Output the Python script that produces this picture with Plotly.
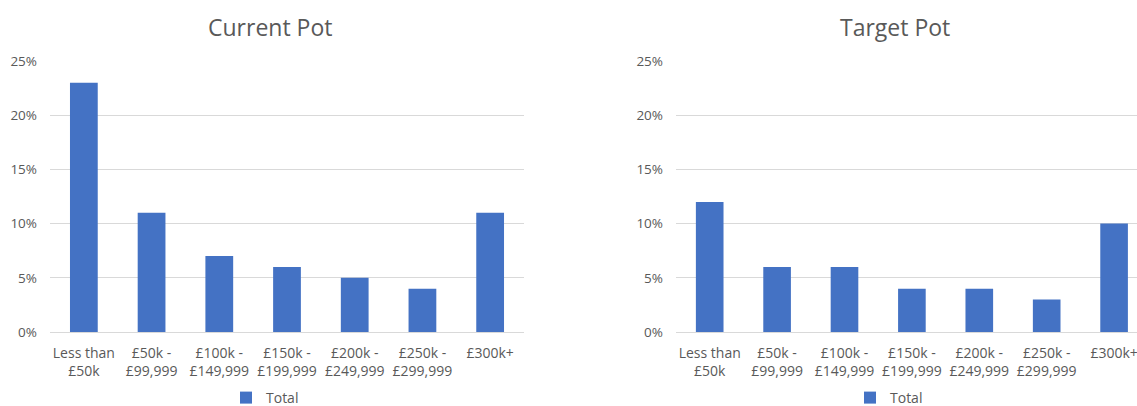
import plotly.graph_objects as go

categories = ["Less than<br>£50k", "£50k -<br>£99,999", "£100k -<br>£149,999", "£150k -<br>£199,999",
              "£200k -<br>£249,999", "£250k -<br>£299,999", "£300k+"]
current_pot = [23, 11, 7, 6, 5, 4, 11]
target_pot = [12, 6, 6, 4, 4, 3, 10]
y_tick_vals = [0, 5, 10, 15, 20, 25]
y_tick_text = ["0%", "5%", "10%", "15%", "20%", "25%"]

W, H = 1137, 406
FONT = "Open Sans"
GREY = "#595959"
BAR = "#4472C4"
GRID = "#D9D9D9"

fig = go.Figure()
fig.add_trace(go.Bar(x=categories, y=current_pot, name="Total", marker_color=BAR,
                     xaxis="x", yaxis="y", legend="legend", width=0.41))
fig.add_trace(go.Bar(x=categories, y=target_pot, name="Total", marker_color=BAR,
                     xaxis="x2", yaxis="y2", legend="legend2", width=0.41))

ydom = [(H - 332) / H, (H - 61) / H]
xcommon = dict(type="category", showgrid=False, showline=True, linecolor=GRID, linewidth=1,
               ticks="", automargin=False, ticklabelstandoff=8,
               tickfont=dict(family=FONT, size=14, color=GREY))
ycommon = dict(range=[0, 25], tickmode="array", tickvals=y_tick_vals, ticktext=y_tick_text,
               showgrid=True, gridcolor=GRID, gridwidth=1, zeroline=False, showline=False,
               ticks="", automargin=False, ticklabelstandoff=12,
               tickfont=dict(family=FONT, size=13.5, color=GREY))

legend_common = dict(yanchor="middle", orientation="h", xanchor="center",
                     font=dict(family=FONT, size=14, color=GREY), bgcolor="rgba(0,0,0,0)",
                     itemwidth=30, tracegroupgap=0)

fig.update_layout(
    width=W, height=H, margin=dict(l=0, r=0, t=0, b=0, autoexpand=False),
    template="none", plot_bgcolor="white", paper_bgcolor="white",
    font=dict(family=FONT, color=GREY),
    xaxis=dict(domain=[50 / W, 524 / W], range=[-0.5, 6.5], anchor="y", **xcommon),
    yaxis=dict(domain=ydom, anchor="x", **ycommon),
    xaxis2=dict(domain=[676 / W, 1.0], range=[-0.5, 6.34], anchor="y2", **xcommon),
    yaxis2=dict(domain=ydom, anchor="x2", **ycommon),
    legend=dict(x=265 / W, y=(H - 398) / H, **legend_common),
    legend2=dict(x=889 / W, y=(H - 398) / H, **legend_common),
    annotations=[
        dict(text="Current Pot", x=270 / W, y=(H - 27) / H, xref="paper", yref="paper",
             showarrow=False, xanchor="center", yanchor="middle",
             font=dict(family=FONT, size=23, color=GREY)),
        dict(text="Target Pot", x=895 / W, y=(H - 27) / H, xref="paper", yref="paper",
             showarrow=False, xanchor="center", yanchor="middle",
             font=dict(family=FONT, size=23, color=GREY)),
    ],
    showlegend=True,
)

fig.write_html("out.html")
